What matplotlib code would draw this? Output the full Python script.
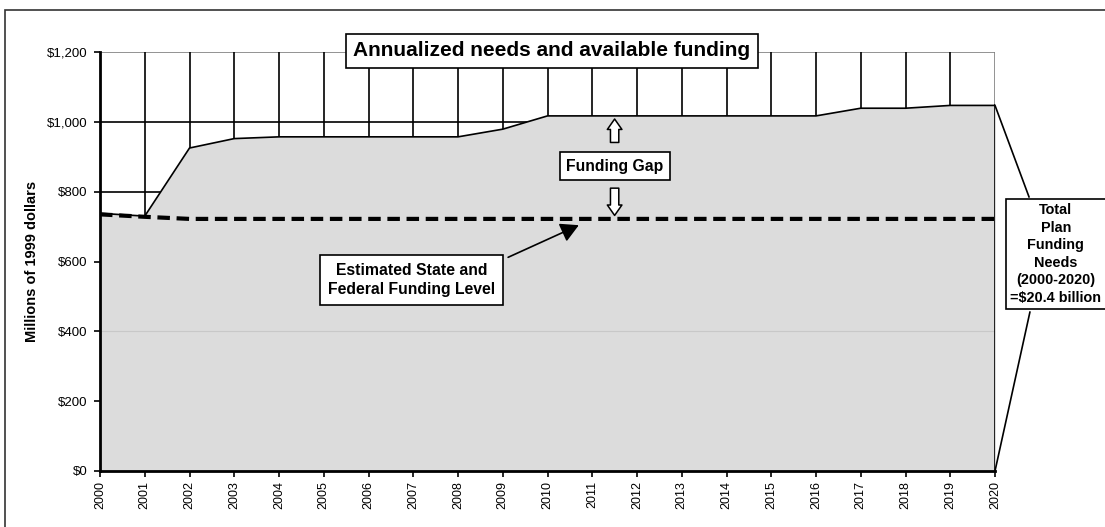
import numpy as np
import matplotlib
matplotlib.use("Agg")
import matplotlib.pyplot as plt
from matplotlib.patches import Rectangle

plt.rcParams['font.family'] = ['Liberation Sans', 'DejaVu Sans']

years = list(range(2000, 2021))
needs = [738, 730, 925, 952, 957, 957, 957, 957, 957, 979, 1017,
         1017, 1017, 1017, 1017, 1017, 1017, 1039, 1039, 1047, 1047]
funding = [735, 728, 722, 722, 722, 722, 722, 722, 722, 722, 722,
           722, 722, 722, 722, 722, 722, 722, 722, 722, 722]
yticks = [0, 200, 400, 600, 800, 1000, 1200]

W, H = 1105, 527
fig = plt.figure(figsize=(W / 100, H / 100), dpi=100)
ax = fig.add_axes([100 / W, 1 - 471 / H, 895 / W, 419 / H])

# outer frame
fig.patches.append(Rectangle((5 / W, -0.1), 1.2, 1.1 - 10 / H, transform=fig.transFigure,
                             fill=False, ec='#333333', lw=1.2))

# grid behind the area
for y in [800, 1000]:
    ax.axhline(y, color='black', lw=1.2, zorder=1)
ax.axhline(1200, color='#808080', lw=1.2, zorder=1)
for yr in years[1:-1]:
    ax.axvline(yr, color='black', lw=1.2, zorder=1)
ax.axvline(2020, color='#808080', lw=1.2, zorder=1)

ax.fill_between(years, 0, needs, color='#dcdcdc', zorder=2)
ax.plot(years, needs, color='black', lw=1.2, zorder=3)
ax.axhline(400, color='#c8c8c8', lw=0.8, zorder=2.5)
ax.plot([2020, 2020], [0, needs[-1]], color='black', lw=1.2, zorder=3)
ax.plot(years, funding, color='black', lw=3, ls=(0, (3, 1.6)), zorder=4)

ax.set_xlim(2000, 2020)
ax.set_ylim(0, 1200)
ax.set_xticks(years)
ax.set_xticklabels([str(y) for y in years], rotation=90, fontsize=9)
ax.set_yticks(yticks)
ax.set_yticklabels(['${:,}'.format(v) for v in yticks], fontsize=9.5)
ax.tick_params(direction='out', length=4, width=1.2, pad=3)
ax.tick_params(axis='y', pad=5)
for s in ['top', 'right']:
    ax.spines[s].set_visible(False)
for s in ['left', 'bottom']:
    ax.spines[s].set_linewidth(2)
    ax.spines[s].set_zorder(5)
ax.set_ylabel('Millions of 1999 dollars', fontsize=10.5, fontweight='bold', labelpad=6)
ax.patch.set_alpha(0)

box = dict(boxstyle='square,pad=0.35', fc='white', ec='black', lw=1.2)

ax.text(2010.1, 1203, 'Annualized needs and available funding', fontsize=15,
        fontweight='bold', ha='center', va='center', bbox=box, zorder=6, clip_on=False)

gap_arrow = dict(arrowstyle='simple,head_length=0.75,head_width=1.05,tail_width=0.6',
                 fc='white', ec='black', lw=1.1)
ax.text(2011.5, 873, 'Funding Gap', fontsize=11.3, fontweight='bold', ha='center',
        va='center', bbox=dict(boxstyle='square,pad=0.4', fc='white', ec='black', lw=1.2), zorder=6)
ax.annotate('', xy=(2011.5, 1016), xytext=(2011.5, 933), arrowprops=gap_arrow, zorder=6)
ax.annotate('', xy=(2011.5, 724), xytext=(2011.5, 818), arrowprops=gap_arrow, zorder=6)

ax.text(2006.97, 547, 'Estimated State and\nFederal Funding Level', fontsize=11.3,
        fontweight='bold', ha='center', va='center', linespacing=1.3,
        bbox=dict(boxstyle='square,pad=0.5', fc='white', ec='black', lw=1.2), zorder=6)
ax.annotate('', xy=(2010.7, 704), xytext=(2009.12, 612),
            arrowprops=dict(arrowstyle='-|>,head_length=1.1,head_width=0.6',
                            fc='black', ec='black', lw=1.2, shrinkA=0, shrinkB=0), zorder=6)

ax.plot([2020, 2020.76], [needs[-1], 785], color='black', lw=1.2, clip_on=False, zorder=6)
ax.plot([2020.78, 2020], [455, 0], color='black', lw=1.2, clip_on=False, zorder=6)
ax.text(2021.36, 621, 'Total\nPlan\nFunding\nNeeds\n(2000-2020)\n=$20.4 billion',
        fontsize=10.4, fontweight='bold', ha='center', va='center', linespacing=1.32,
        bbox=dict(boxstyle='square,pad=0.3', fc='white', ec='black', lw=1.2),
        zorder=6, clip_on=False)

fig.savefig('out.png', dpi=100)
